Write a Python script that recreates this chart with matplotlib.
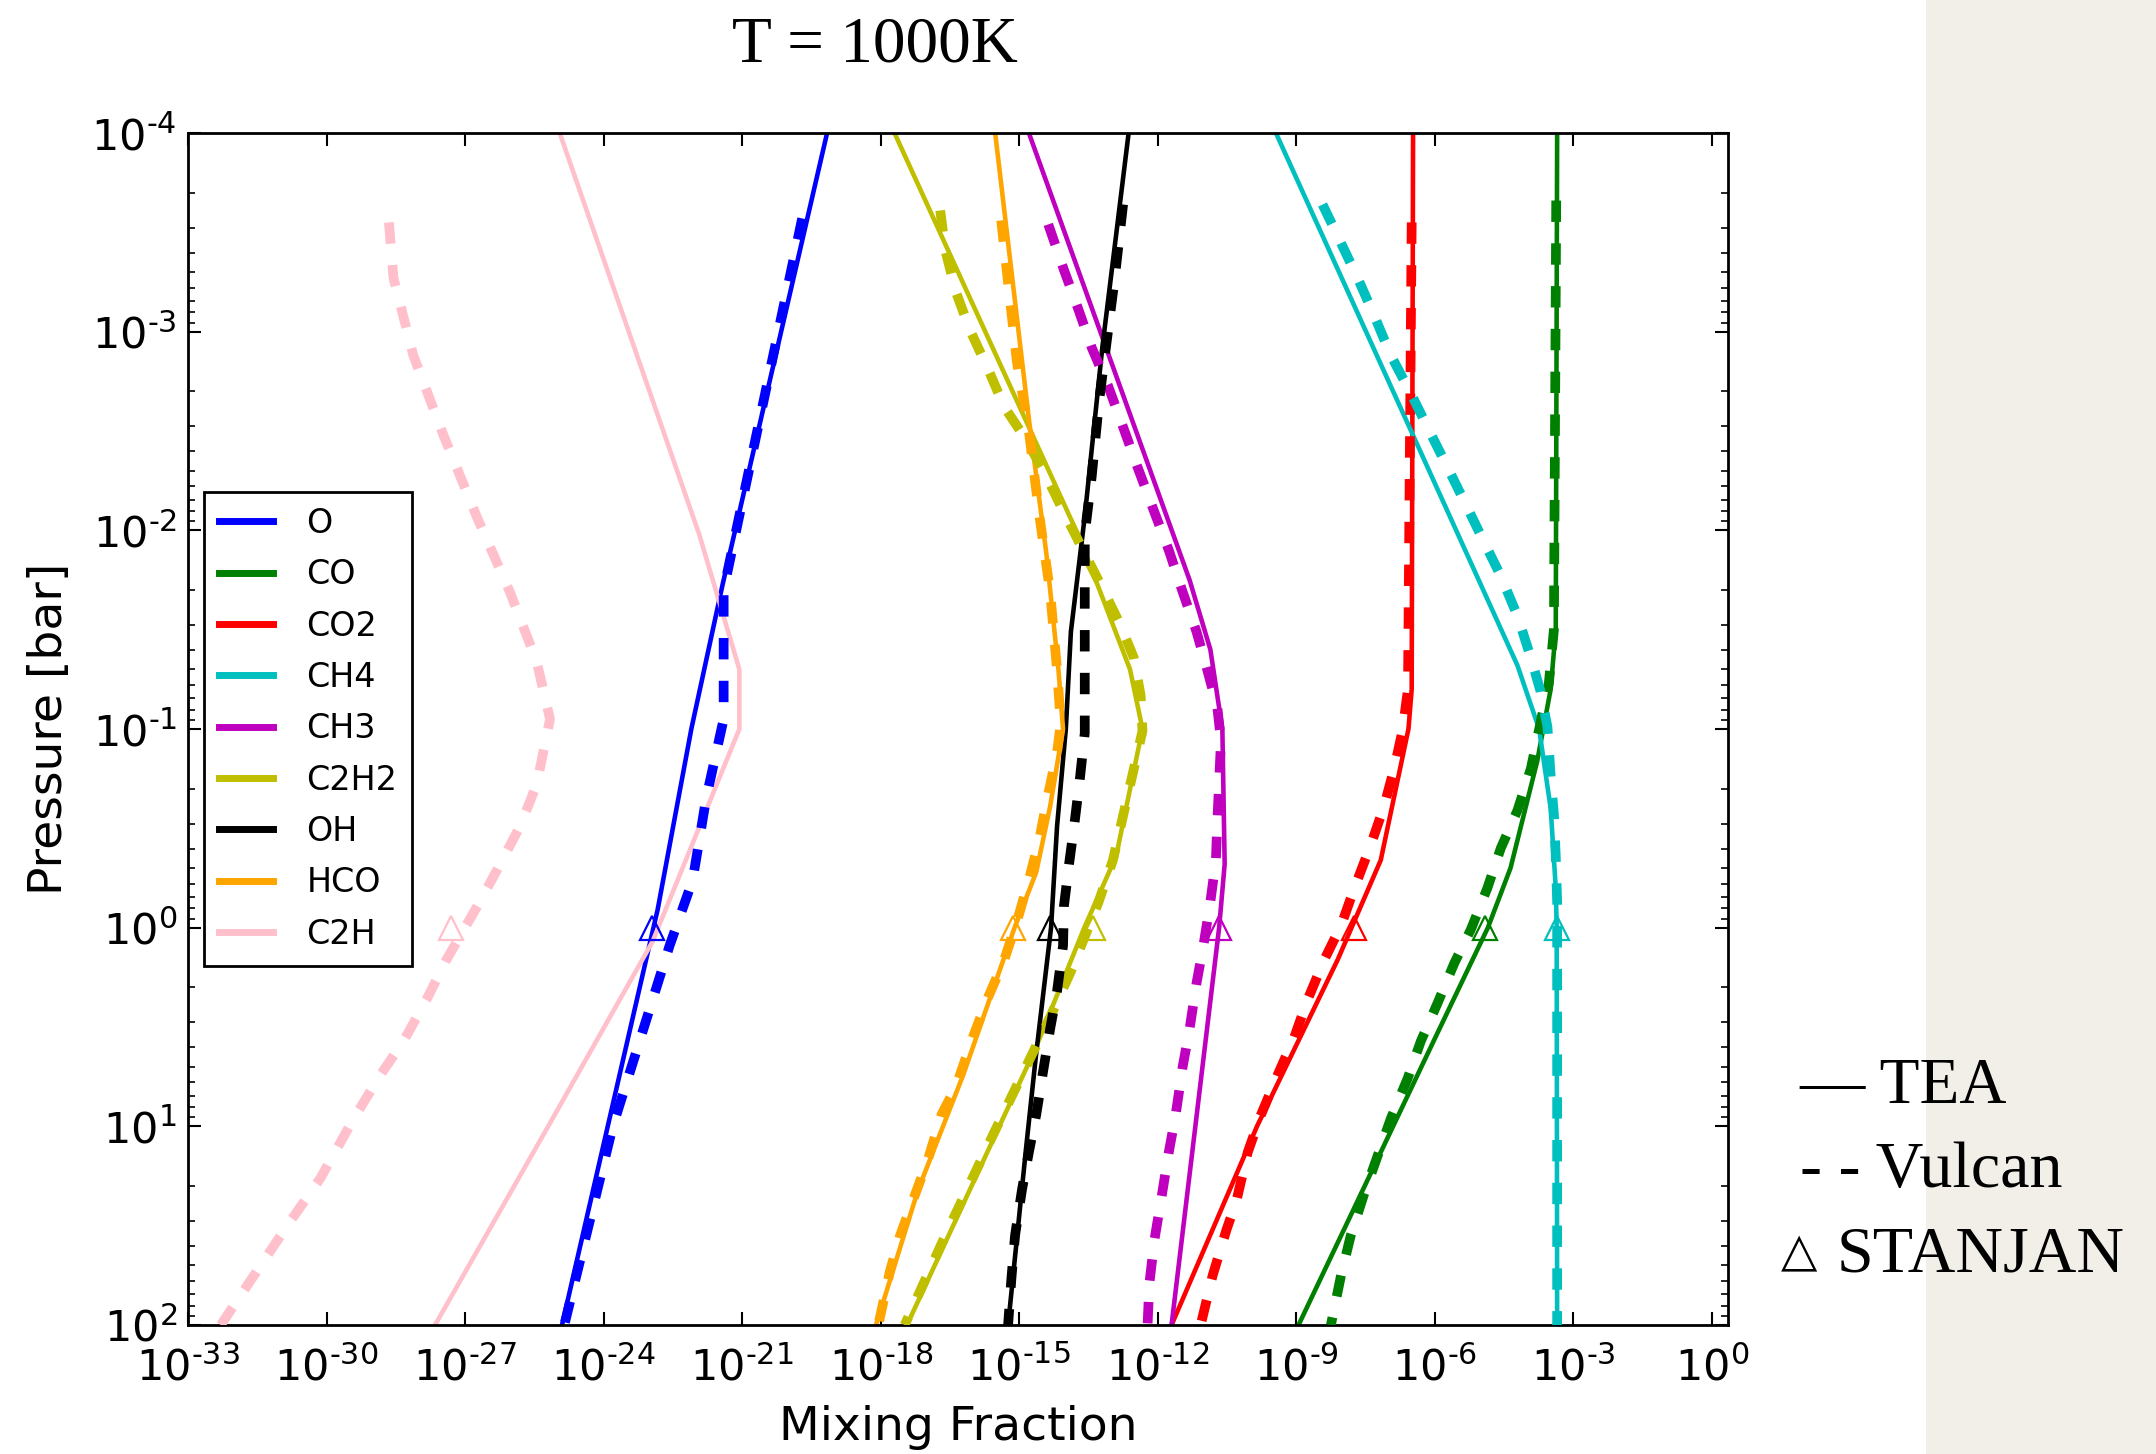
import numpy as np
import matplotlib
matplotlib.use('Agg')
import matplotlib.pyplot as plt
from matplotlib.ticker import FixedLocator, LogLocator, NullLocator, NullFormatter, FuncFormatter
from matplotlib.patches import Rectangle

plt.rcParams['axes.unicode_minus'] = False
plt.rcParams['font.family'] = ['DejaVu Sans']
plt.rcParams['mathtext.fontset'] = 'dejavusans'

# ---------------- data (log10 values) ----------------
species = ['O', 'CO', 'CO2', 'CH4', 'CH3', 'C2H2', 'OH', 'HCO', 'C2H']
colors = ['b', 'g', 'r', 'c', 'm', 'y', 'k', 'orange', 'pink']

# TEA (solid): log10 pressure [bar] and log10 mixing fraction
O_tea_p = [-4, -1.73, -1.0, -0.09, 0.0, 2.0]
O_tea_x = [-19.16, -21.42, -22.1, -22.83, -22.92, -24.9]
CO_tea_p = [-4, -1.5, -1.2, -0.84, -0.3, 0.0, 0.51, 2.0]
CO_tea_x = [-3.35, -3.38, -3.49, -3.78, -4.36, -4.85, -5.9, -8.95]
CO2_tea_p = [-4, -1.2, -1.0, -0.34, 0.16, 1.0, 2.0]
CO2_tea_x = [-6.47, -6.5, -6.57, -7.17, -8.1, -9.85, -11.7]
CH4_tea_p = [-4, -1.32, -1.0, -0.6, -0.2, 0.0, 2.0]
CH4_tea_x = [-9.44, -4.21, -3.74, -3.49, -3.38, -3.36, -3.35]
CH3_tea_p = [-4, -1.75, -1.4, -1.0, -0.32, 0.0, 2.0]
CH3_tea_x = [-14.79, -11.31, -10.86, -10.6, -10.55, -10.67, -11.7]
C2H2_tea_p = [-4, -1.96, -1.3, -1.0, -0.36, 0.0, 0.61, 2.0]
C2H2_tea_x = [-17.70, -13.69, -12.6, -12.33, -12.90, -13.59, -14.65, -17.43]
OH_tea_p = [-4, -2.92, -2.07, -1.49, -1.0, -0.51, 0.0, 0.65, 1.13, 2.0]
OH_tea_x = [-12.63, -13.2, -13.58, -13.88, -13.99, -14.18, -14.31, -14.64, -14.86, -15.24]
HCO_tea_p = [-4, -2.56, -1.88, -1.3, -1.0, -0.61, -0.28, 0.0, 0.74, 1.32, 2.0]
HCO_tea_x = [-15.52, -14.79, -14.41, -14.15, -14.05, -14.33, -14.63, -15.1, -16.21, -17.19, -18.1]
C2H_tea_p = [-4, -1.98, -1.3, -1.0, 0.07, 1.0, 2.0]
C2H_tea_x = [-24.95, -21.93, -21.06, -21.06, -22.94, -25.2, -27.65]

# Vulcan (dashed)
O_vul_p = [-3.57, -1.7, -1.05, -0.65, -0.24, 0.09, 1.0, 2.0]
O_vul_x = [-19.70, -21.40, -21.40, -21.78, -22.07, -22.57, -23.8, -24.85]
CO_vul_p = [-3.66, -1.5, -1.23, -0.8, -0.59, -0.4, -0.2, 0.01, 0.18, 0.38, 0.57, 0.76, 0.96, 1.15, 1.34, 1.55, 1.75, 2.0]
CO_vul_x = [-3.37, -3.42, -3.53, -3.92, -4.21, -4.57, -4.86, -5.22, -5.58, -5.94, -6.3, -6.59, -6.95, -7.24, -7.53, -7.82, -8.03, -8.25]
CO2_vul_p = [-3.55, -1.2, -0.99, -0.8, -0.61, -0.42, -0.2, -0.01, 0.16, 0.36, 0.55, 0.74, 0.94, 1.13, 1.38, 1.52, 1.75, 2.0]
CO2_vul_x = [-6.5, -6.58, -6.7, -6.88, -7.1, -7.38, -7.74, -8.03, -8.39, -8.75, -9.04, -9.4, -9.76, -10.05, -10.3, -10.51, -10.81, -11.07]
CH4_vul_p = [-3.64, -3.48, -3.27, -3.08, -2.88, -2.69, -2.52, -2.32, -2.15, -1.94, -1.77, -1.57, -1.36, -1.19, -1.01, -0.76, -0.57, -0.36, -0.13, 2.0]
CH4_vul_x = [-8.43, -8.1, -7.67, -7.31, -6.95, -6.52, -6.16, -5.73, -5.37, -4.93, -4.57, -4.21, -3.92, -3.71, -3.56, -3.49, -3.42, -3.38, -3.35, -3.35]
CH3_vul_p = [-3.54, -3.31, -3.12, -2.92, -2.73, -2.52, -2.32, -2.09, -1.9, -1.69, -1.49, -1.3, -1.11, -0.94, -0.53, -0.34, -0.13, 0.09, 0.28, 0.51, 0.70, 0.94, 1.13, 1.36, 1.57, 1.79, 2.0]
CH3_vul_x = [-14.37, -14.03, -13.73, -13.43, -13.08, -12.75, -12.44, -12.07, -11.76, -11.46, -11.16, -10.93, -10.71, -10.63, -10.71, -10.74, -10.86, -11.01, -11.16, -11.31, -11.46, -11.61, -11.76, -11.92, -12.07, -12.18, -12.22]
C2H2_vul_p = [-3.61, -3.41, -3.20, -3.01, -2.82, -2.62, -2.46, -2.29, -2.09, -1.71, -1.53, -1.36, -1.17, -0.99, -0.34, -0.13, 0.22, 0.45, 1.03, 1.55, 2.0]
C2H2_vul_x = [-16.71, -16.60, -16.37, -16.07, -15.69, -15.32, -14.86, -14.45, -14.03, -13.20, -12.82, -12.52, -12.37, -12.33, -12.97, -13.28, -13.88, -14.33, -15.54, -16.60, -17.48]
OH_vul_p = [-3.64, -3.27, -2.65, -2.27, -1.98, -1.5, -0.98, -0.74, -0.53, -0.32, -0.11, 0.09, 0.32, 0.51, 0.72, 0.94, 1.13, 1.32, 1.55, 1.77, 2.0]
OH_vul_x = [-12.75, -12.93, -13.27, -13.43, -13.58, -13.58, -13.58, -13.69, -13.8, -13.92, -14.03, -14.05, -14.18, -14.33, -14.48, -14.63, -14.79, -14.94, -15.09, -15.17, -15.24]
HCO_vul_p = [-3.56, -2.85, -2.5, -2.07, -1.69, -1.30, -1.03, -0.88, -0.63, -0.45, -0.24, -0.03, 0.16, 0.36, 0.55, 0.8, 0.94, 1.17, 1.36, 1.55, 1.73, 2.0]
HCO_vul_x = [-15.39, -15.05, -14.79, -14.56, -14.33, -14.18, -14.1, -14.18, -14.41, -14.56, -14.79, -15.05, -15.32, -15.69, -16.0, -16.37, -16.68, -16.98, -17.28, -17.58, -17.8, -18.05]
C2H_vul_p = [-3.55, -3.27, -2.88, -2.48, -2.07, -1.69, -1.34, -1.05, -0.72, -0.51, -0.32, -0.13, 0.16, 0.36, 0.57, 0.74, 0.96, 1.26, 1.5, 1.75, 2.0]
C2H_vul_x = [-28.65, -28.55, -28.12, -27.47, -26.75, -26.03, -25.45, -25.16, -25.45, -25.81, -26.24, -26.68, -27.40, -27.83, -28.33, -28.83, -29.41, -30.13, -30.85, -31.57, -32.29]

# STANJAN (triangles) at 1 bar
stanjan_p = 0.0
stanjan_x = [-22.95, -4.92, -7.74, -3.36, -10.67, -13.41, -14.33, -15.13, -27.30]

xtick_exp = [-33, -30, -27, -24, -21, -18, -15, -12, -9, -6, -3, 0]
ytick_exp = [-4, -3, -2, -1, 0, 1, 2]

tea_p = [O_tea_p, CO_tea_p, CO2_tea_p, CH4_tea_p, CH3_tea_p, C2H2_tea_p, OH_tea_p, HCO_tea_p, C2H_tea_p]
tea_x = [O_tea_x, CO_tea_x, CO2_tea_x, CH4_tea_x, CH3_tea_x, C2H2_tea_x, OH_tea_x, HCO_tea_x, C2H_tea_x]
vul_p = [O_vul_p, CO_vul_p, CO2_vul_p, CH4_vul_p, CH3_vul_p, C2H2_vul_p, OH_vul_p, HCO_vul_p, C2H_vul_p]
vul_x = [O_vul_x, CO_vul_x, CO2_vul_x, CH4_vul_x, CH3_vul_x, C2H2_vul_x, OH_vul_x, HCO_vul_x, C2H_vul_x]


def pow10_label(v, pos):
    e = int(round(np.log10(v)))
    s = str(e).replace('-', r'\text{-}')
    return r'$10^{%s}$' % s


# ---------------- figure ----------------
W, H = 2156, 1454
fig = plt.figure(figsize=(W / 100, H / 100), dpi=100)
fig.patch.set_facecolor('white')
fig.patches.append(Rectangle((1926 / W, 0), 1 - 1926 / W, 1, transform=fig.transFigure,
                             facecolor='#f2efe9', edgecolor='none', zorder=-10))

ax = fig.add_axes([188 / W, 1 - 1325 / H, 1540 / W, 1192 / H])

handles = []
for i, name in enumerate(species):
    c = colors[i]
    h, = ax.plot(10.0 ** np.array(tea_x[i]), 10.0 ** np.array(tea_p[i]), color=c, lw=3.3,
                 label=name, zorder=2)
    handles.append(h)
    ax.plot(10.0 ** np.array(vul_x[i]), 10.0 ** np.array(vul_p[i]), color=c, lw=7,
            linestyle=(0, (2.2, 2.2)), zorder=3)
    ax.plot([10.0 ** stanjan_x[i]], [10.0 ** stanjan_p], marker='^', ms=17, mfc='none',
            mec=c, mew=1.6, linestyle='none', zorder=4)

ax.set_xscale('log')
ax.set_yscale('log')
ax.set_xlim(1e-33, 10 ** 0.35)
ax.set_ylim(1e2, 1e-4)

ax.xaxis.set_major_locator(FixedLocator(10.0 ** np.array(xtick_exp)))
ax.xaxis.set_major_formatter(FuncFormatter(pow10_label))
ax.xaxis.set_minor_locator(NullLocator())
ax.yaxis.set_major_locator(FixedLocator(10.0 ** np.array(ytick_exp)))
ax.yaxis.set_major_formatter(FuncFormatter(pow10_label))
ax.yaxis.set_minor_locator(LogLocator(base=10, subs=np.arange(2, 10), numticks=20))
ax.yaxis.set_minor_formatter(NullFormatter())

ax.tick_params(which='both', direction='in', top=True, right=True)
ax.tick_params(which='major', length=9.5, width=1.5, labelsize=31)
ax.tick_params(axis='x', which='major', pad=16)
ax.tick_params(axis='y', which='major', pad=8)
ax.tick_params(which='minor', length=5, width=1.2)
for s in ax.spines.values():
    s.set_linewidth(2)

ax.set_xlabel('Mixing Fraction', fontsize=34, labelpad=11)
ax.set_ylabel('Pressure [bar]', fontsize=34, labelpad=14)

leg = ax.legend(handles=handles, loc='upper left', bbox_to_anchor=(204 / W, 1 - 492 / H),
                bbox_transform=fig.transFigure, fontsize=24, frameon=True, fancybox=False,
                framealpha=1, edgecolor='k', borderaxespad=0, handlelength=1.62,
                handletextpad=1.0, labelspacing=0.55, borderpad=0.45)
leg.get_frame().set_linewidth(2)
for ln in leg.get_lines():
    ln.set_linewidth(5)

serif = ['Liberation Serif', 'DejaVu Serif']
fig.text(875 / W, 1 - 62 / H, 'T = 1000K', ha='center', va='baseline', fontsize=47, family=serif)
fig.text(1799 / W, 1 - 1103 / H, '\u2014 TEA', ha='left', va='baseline', fontsize=47, family=serif)
fig.text(1800 / W, 1 - 1187 / H, '- - Vulcan', ha='left', va='baseline', fontsize=47.5, family=serif)
fig.text(1781 / W, 1 - 1265 / H, '\u25b3', ha='left', va='baseline', fontsize=34, family=['DejaVu Sans'])
fig.text(1837 / W, 1 - 1272 / H, 'STANJAN', ha='left', va='baseline', fontsize=47.5, family=serif)

fig.savefig('out.png', dpi=100)
